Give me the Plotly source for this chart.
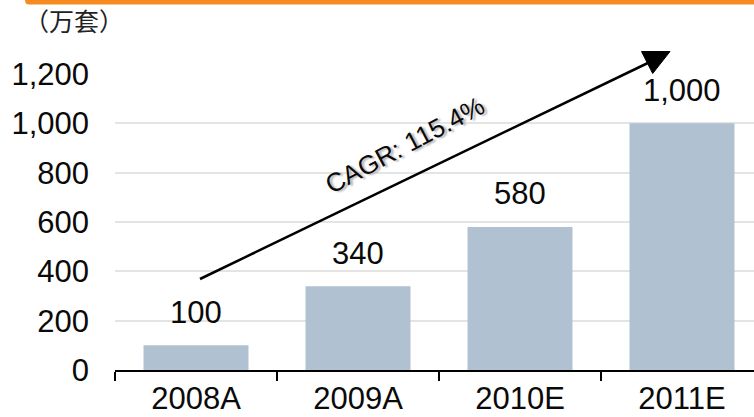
import plotly.graph_objects as go

categories = ["2008A", "2009A", "2010E", "2011E"]
values = [100, 340, 580, 1000]
y_ticks = [0, 200, 400, 600, 800, 1000, 1200]
unit_label = "（万套）"
cagr_label = "CAGR: 115.4%"

FONT = "Liberation Sans, Arial, sans-serif"
BAR_COLOR = "#B0C1D2"
TXT = "#0a0a0a"

fig = go.Figure()
fig.add_trace(go.Bar(
    x=categories, y=values,
    marker=dict(color=BAR_COLOR, line=dict(width=0)),
    hoverinfo="skip",
))

# value labels above bars
for c, v in zip(categories, values):
    fig.add_annotation(
        x=c, y=v, xref="x", yref="y", text=f"{v:,}", showarrow=False,
        yanchor="middle", xanchor="center", yshift=33,
        font=dict(family=FONT, size=31, color=TXT),
    )

# paper helpers (plot area: x 115..754 px, y 74..370 px)
def px(xp):
    return (xp - 115) / 639.0

def py(yp):
    return (370 - yp) / 296.0

# orange header bar with rounded left end
x0, x1 = px(25), px(754)
yt, yb = py(0), py(4.5)
r = px(29) - px(25)
fig.add_shape(
    type="path", xref="paper", yref="paper",
    path=f"M {x0+r},{yt} L {x1},{yt} L {x1},{yb} L {x0+r},{yb} Q {x0},{yb} {x0},{yt} Z",
    fillcolor="#F68B1F", line=dict(width=0), layer="above",
)

# CAGR arrow
fig.add_shape(
    type="line", xref="paper", yref="paper",
    x0=px(200), y0=py(279), x1=px(652), y1=py(61),
    line=dict(color="#000000", width=2.5), layer="above",
)
fig.add_shape(
    type="path", xref="paper", yref="paper",
    path=f"M {px(641.5)},{py(51.5)} L {px(670)},{py(51.5)} L {px(652.7)},{py(73.5)} Z",
    fillcolor="#000000", line=dict(color="#000000", width=1), layer="above",
)
fig.add_annotation(
    x=px(405), y=py(145), xref="paper", yref="paper", text=cagr_label,
    showarrow=False, textangle=-28, xanchor="center", yanchor="middle",
    font=dict(family=FONT, size=26, color=TXT, shadow="2px 2px 2px #b0b0b0"),
)

# unit label
fig.add_annotation(
    x=px(74), y=py(20), xref="paper", yref="paper", text=unit_label,
    showarrow=False, xanchor="center", yanchor="middle",
    font=dict(family="Noto Sans CJK SC", size=25, color="#222222"),
)

fig.update_layout(
    width=754, height=417,
    margin=dict(l=115, r=0, t=74, b=47),
    paper_bgcolor="white", plot_bgcolor="white",
    showlegend=False,
    bargap=0.352,
    font=dict(family=FONT, size=31, color=TXT),
)
fig.update_xaxes(
    type="category", range=[-0.5, -0.5 + 639 / 162],
    showline=True, linecolor="#000000", linewidth=2,
    ticks="outside", tickson="boundaries", ticklen=9, tickwidth=2, tickcolor="#000000",
    tickfont=dict(family=FONT, size=31, color=TXT),
    ticklabelstandoff=0, automargin=False,
    showgrid=False, zeroline=False, fixedrange=True,
)
fig.update_yaxes(
    range=[0, 1200], tickvals=y_ticks, tickformat=",",
    showgrid=True, gridcolor="#E4E4E4", gridwidth=1.5,
    showline=False, zeroline=False, ticks="",
    ticklabelstandoff=25, automargin=False,
    tickfont=dict(family=FONT, size=31, color=TXT),
    fixedrange=True,
)

fig.write_html(
    "out.html",
    config={"displayModeBar": False},
    post_script="document.body.style.margin='0';document.body.style.overflow='hidden';",
)
